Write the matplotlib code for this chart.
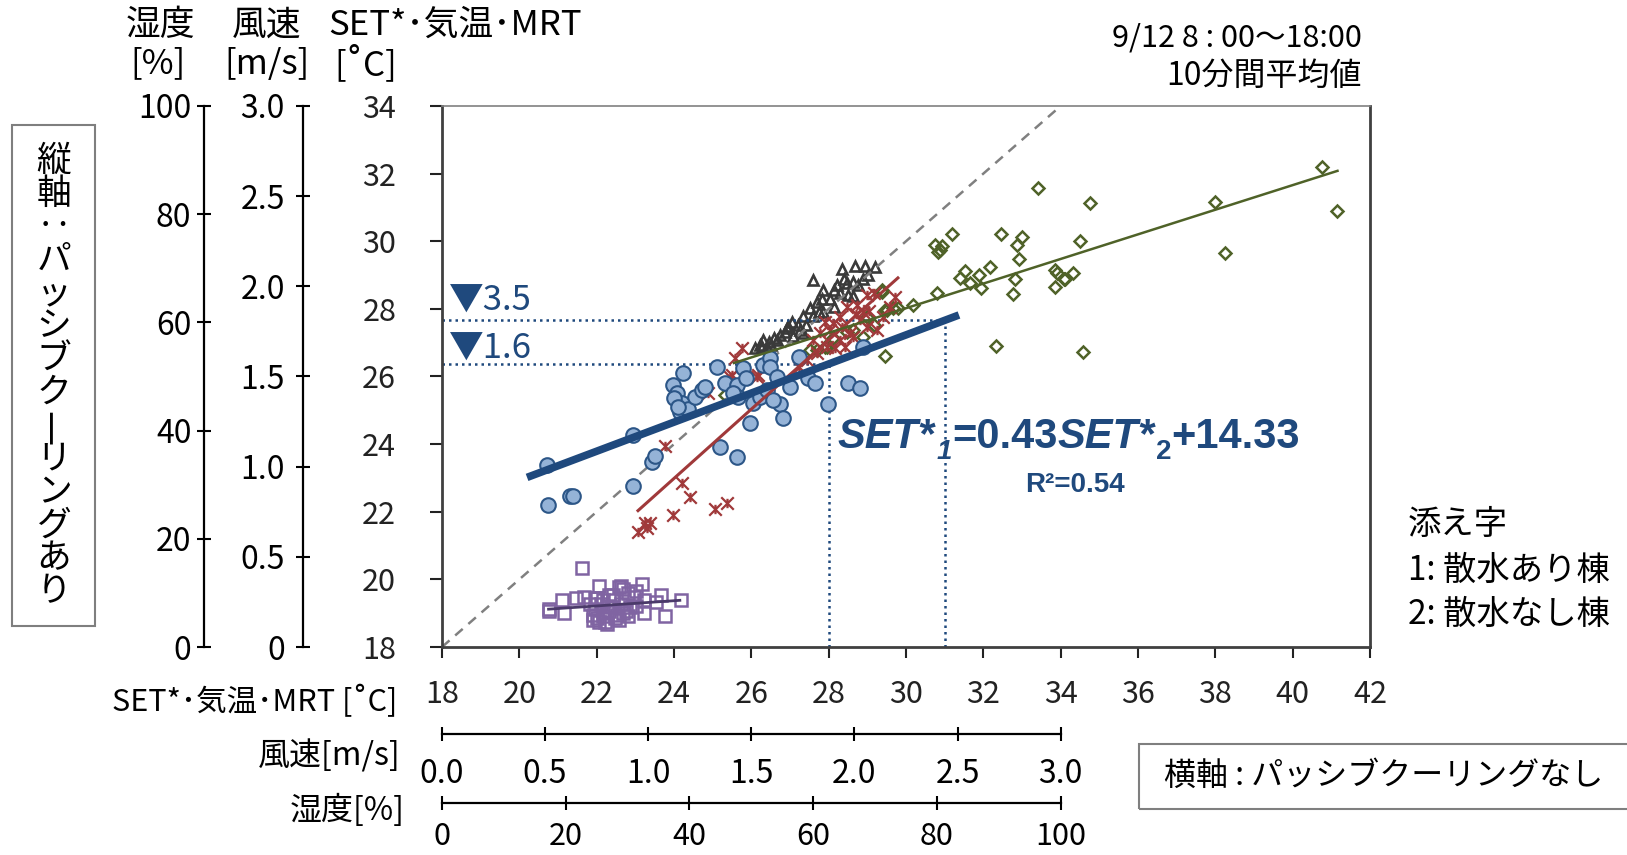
import numpy as np
import matplotlib
matplotlib.use("Agg")
import matplotlib.pyplot as plt
from matplotlib.patches import Rectangle
from matplotlib.path import Path

plt.rcParams["font.family"] = ["Noto Sans CJK JP", "DejaVu Sans"]

# ---- data (SET*, air temp, MRT in degC; wind in m/s; humidity in %) ----
# x: without passive cooling, y: with passive cooling
set_x = [20.71, 20.75, 21.31, 21.39, 22.94, 22.93, 23.42, 23.51, 24.22, 23.98,
         24.07, 24.20, 24.16, 24.37, 24.54, 24.72, 24.80, 25.10, 25.19, 25.64,
         25.32, 25.62, 25.66, 25.79, 25.97, 26.05, 26.22, 26.31, 26.48, 26.48,
         26.40, 26.66, 26.74, 26.83, 27.00, 27.22, 27.47, 27.65, 27.98, 28.51,
         28.81, 28.90, 26.57, 25.53, 24.00, 24.10, 25.85]
set_y = [23.38, 22.20, 22.47, 22.47, 24.27, 22.76, 23.48, 23.65, 26.11, 25.75,
         25.50, 25.21, 24.94, 25.03, 25.40, 25.60, 25.70, 26.29, 23.91, 23.61,
         25.80, 25.75, 25.40, 26.24, 24.62, 25.21, 25.40, 26.34, 26.54, 26.29,
         25.60, 25.99, 25.18, 24.77, 25.70, 26.57, 25.95, 25.80, 25.18, 25.80,
         25.67, 26.88, 25.31, 25.50, 25.35, 25.10, 25.95]

temp_x = [23.08, 23.25, 23.38, 23.29, 23.98, 24.20, 24.41, 25.06, 25.36, 23.77,
          25.75, 25.58, 25.45, 26.18, 24.89, 28.98, 28.72, 28.47, 28.29, 28.12,
          28.03, 27.78, 27.60, 27.69, 28.29, 28.64, 28.98, 29.24, 29.41, 29.59,
          29.72, 25.49, 26.14, 27.22, 27.43, 27.95, 28.17, 28.43, 28.81, 28.90,
          29.16, 28.55, 28.35, 27.90, 28.70, 29.05]
temp_y = [21.41, 21.66, 21.66, 21.51, 21.89, 22.84, 22.45, 22.07, 22.25, 23.94,
          26.83, 26.54, 25.99, 26.04, 25.50, 28.41, 28.11, 28.06, 27.77, 27.57,
          27.38, 27.28, 27.08, 26.69, 27.08, 27.18, 27.47, 27.38, 27.77, 28.06,
          28.36, 26.04, 25.99, 26.29, 26.49, 26.88, 26.83, 26.88, 27.67, 27.92,
          28.46, 27.30, 27.45, 27.60, 27.85, 27.95]

mrt_x = [40.75, 41.14, 37.99, 38.25, 33.42, 34.76, 31.18, 30.92, 30.88, 32.46,
         32.99, 32.88, 32.92, 34.51, 32.17, 31.53, 31.40, 31.66, 31.90, 31.93,
         32.82, 32.76, 33.85, 34.09, 34.33, 33.85, 32.33, 34.58, 30.75, 30.84,
         30.19, 29.80, 29.46, 30.79, 29.46, 29.37, 28.98, 29.16, 28.90, 29.37,
         28.64, 28.47, 28.12, 27.95, 27.69, 25.32, 29.67, 29.50, 27.52, 27.91,
         33.90, 34.11]
mrt_y = [32.19, 30.89, 31.17, 29.64, 31.58, 31.12, 30.21, 29.86, 29.74, 30.21,
         30.14, 29.89, 29.47, 30.00, 29.23, 29.12, 28.90, 28.77, 29.00, 28.61,
         28.88, 28.43, 29.15, 28.88, 29.07, 28.66, 26.91, 26.72, 29.89, 29.69,
         28.11, 28.02, 27.97, 28.46, 26.61, 28.56, 27.77, 27.52, 27.18, 28.51,
         27.38, 27.33, 27.13, 26.88, 26.78, 25.45, 28.02, 27.97, 26.78, 26.88,
         29.05, 28.88]

hum_x = [64.6, 66.8, 68.4, 70.0, 59.9, 65.4, 66.5, 67.3, 68.1, 68.9,
         61.6, 63.3, 61.4, 62.7, 64.3, 65.7, 66.5, 59.5, 60.9, 58.4,
         60.0, 61.6, 63.3, 56.5, 57.6, 55.7, 57.9, 58.9, 51.9, 52.8,
         53.6, 54.6, 55.4, 51.4, 52.5, 54.1, 56.8, 58.4, 51.7, 50.6,
         53.1, 55.9, 60.6, 63.8, 65.0]
hum_y = [69.8, 70.4, 70.4, 70.2, 67.8, 67.3, 67.5, 66.9, 68.1, 68.8,
         66.0, 66.0, 64.4, 64.3, 65.4, 65.1, 64.8, 62.6, 62.0, 61.1,
         61.1, 62.0, 62.9, 60.1, 59.5, 58.9, 58.6, 59.5, 56.8, 56.4,
         57.1, 57.7, 58.3, 55.8, 55.5, 56.8, 57.4, 58.0, 55.5, 55.3,
         55.9, 59.4, 63.8, 66.9, 68.1]

wind_x = [0.68, 0.76, 0.87, 0.97, 0.86, 0.58, 0.65, 0.69, 0.74, 0.78,
          0.83, 0.90, 0.93, 0.98, 1.06, 1.16, 1.04, 0.52, 0.59, 0.52,
          0.98, 1.08, 0.90, 0.73, 0.76, 0.78, 0.81, 0.82, 0.85, 0.86,
          0.89, 0.91, 0.74, 0.72, 0.77, 0.80, 0.83, 0.87, 0.81, 0.79,
          0.73, 0.94, 0.75, 0.88, 0.94, 0.78, 0.84, 0.80, 0.88, 0.75]
wind_y = [0.44, 0.34, 0.34, 0.35, 0.33, 0.26, 0.27, 0.28, 0.27, 0.26,
          0.29, 0.30, 0.28, 0.26, 0.29, 0.26, 0.25, 0.20, 0.19, 0.21,
          0.19, 0.17, 0.17, 0.15, 0.14, 0.17, 0.20, 0.22, 0.18, 0.15,
          0.20, 0.22, 0.21, 0.24, 0.24, 0.13, 0.26, 0.24, 0.29, 0.14,
          0.18, 0.23, 0.27, 0.32, 0.31, 0.19, 0.16, 0.23, 0.19, 0.16]

# trend lines: (slope, intercept, x range)
set_fit = (0.43, 14.33, (20.2, 31.37))
temp_fit = (1.024, -1.59, (23.04, 29.82))
mrt_fit = (0.364, 17.10, (25.52, 41.19))
wind_fit = (0.077, 0.17, (0.51, 1.16))
marks_x = [28, 31]   # read-off points on the SET* regression

set_ticks = list(range(18, 43, 2))
set_yticks = list(range(18, 35, 2))
wind_ticks = [0, 0.5, 1.0, 1.5, 2.0, 2.5, 3.0]
hum_ticks = [0, 20, 40, 60, 80, 100]

NAVY = "#1F497D"

# Excel-like "*" marker: an X with a vertical stroke
star_marker = Path([(-1, -1), (1, 1), (-1, 1), (1, -1), (0, -0.75), (0, 0.75)],
                   [Path.MOVETO, Path.LINETO, Path.MOVETO, Path.LINETO,
                    Path.MOVETO, Path.LINETO])

W, H = 1627, 855
fig = plt.figure(figsize=(W / 100, H / 100), dpi=100)


def fx(px):
    return px / W


def fy(py):
    return 1 - py / H


L, R, T, B = 442, 1370, 106, 647
rect = [fx(L), fy(B), (R - L) / W, (B - T) / H]

ax_h = fig.add_axes(rect, zorder=1)
ax_w = fig.add_axes(rect, zorder=2)
ax = fig.add_axes(rect, zorder=3)
ax.patch.set_visible(False)

# ---- helper axes: humidity and wind, sharing the SET* frame ----
for a, lx, by, xmax, ymax in [(ax_h, 204, 803, 150, 100), (ax_w, 303, 734, 4.5, 3.0)]:
    a.patch.set_visible(False)
    a.set_xlim(0, xmax)
    a.set_ylim(0, ymax)
    a.spines["top"].set_visible(False)
    a.spines["right"].set_visible(False)
    a.spines["left"].set_position(("axes", (lx - L) / (R - L)))
    a.spines["bottom"].set_position(("axes", -(by - B) / (B - T)))
    a.spines["left"].set_bounds(0, ymax)
    a.spines["bottom"].set_bounds(0, xmax * 2 / 3)
    for s in ("left", "bottom"):
        a.spines[s].set_linewidth(1.6)
    a.tick_params(direction="inout", length=10, width=1.5, labelsize=23)

ax_h.set_xticks(hum_ticks)
ax_h.set_yticks(hum_ticks)
ax_h.tick_params(axis="y", pad=4)
ax_h.tick_params(axis="x", pad=8, labelsize=22)

ax_w.set_xticks(wind_ticks)
ax_w.set_xticklabels([f"{v:.1f}" for v in wind_ticks])
ax_w.set_yticks(wind_ticks)
ax_w.set_yticklabels(["0"] + [f"{v:.1f}" for v in wind_ticks[1:]])
ax_w.tick_params(axis="y", pad=8)
ax_w.tick_params(axis="x", pad=12)

# ---- main axes ----
ax.set_xlim(18, 42)
ax.set_ylim(18, 34)
ax.set_xticks(set_ticks)
ax.set_yticks(set_yticks)
ax.tick_params(direction="out", width=1.5, labelsize=22, colors="#222222")
ax.tick_params(axis="x", length=8, pad=15)
ax.tick_params(axis="y", length=9, pad=24)
for s in ("left", "bottom", "right"):
    ax.spines[s].set_linewidth(2)
    ax.spines[s].set_color("#404040")
ax.spines["top"].set_linewidth(1.2)
ax.spines["top"].set_color("#808080")

# 1:1 line
ax.plot([18, 34], [18, 34], ls=(0, (4, 3)), color="#808080", lw=1.8, zorder=1)

# scatter series
ax.plot(mrt_x, mrt_y, ls="none", marker="D", ms=6.5, mfc="none", mec="#4F6228",
        mew=1.8, zorder=2)
ax.plot(temp_x, temp_y, ls="none", marker=star_marker, ms=9, mec="#A0393A",
        mew=1.6, zorder=3)
ax_h.plot(hum_x, hum_y, ls="none", marker="^", ms=7, mfc="none", mec="#3A3A3A",
          mew=1.9)
ax_w.plot(wind_x, wind_y, ls="none", marker="s", ms=8.5, mfc="none", mec="#8064A2",
          mew=1.8)
ax.plot(set_x, set_y, ls="none", marker="o", ms=10.5, mfc="#95B3D7", mec="#2C5687",
        mew=1.5, zorder=4)

# trend lines
for (m, c, (x0, x1)), col, lw, a in [(temp_fit, "#A0393A", 2.2, ax),
                                     (mrt_fit, "#4F6228", 1.8, ax),
                                     (wind_fit, "#4B3A6A", 2.0, ax_w),
                                     (set_fit, NAVY, 5.5, ax)]:
    xs = np.array([x0, x1])
    a.plot(xs, m * xs + c, color=col, lw=lw, solid_capstyle="butt", zorder=5)

# read-off dotted guides
m, c, _ = set_fit
for xv in marks_x:
    yv = m * xv + c
    ax.plot([18, xv], [yv, yv], color=NAVY, lw=1.8, ls=(0, (1, 1.6)), zorder=1)
    ax.plot([xv, xv], [18, yv], color=NAVY, lw=1.8, ls=(0, (1, 1.6)), zorder=1)

ax.text(18.18, 28.23, "▼3.5", color=NAVY, fontsize=25, va="center", ha="left")
ax.text(18.18, 26.81, "▼1.6", color=NAVY, fontsize=25, va="center", ha="left")

# regression equation, built piece by piece
eq_font = dict(family="Liberation Sans", weight="bold", color=NAVY)
pieces = [("SET*", "it"), ("1", "subit"), ("=0.43", "rm"), ("SET*", "it"),
          ("2", "sub"), ("+14.33", "rm")]
first = ax.text(28.24, 23.885, pieces[0][0], fontsize=30, style="italic",
                va="baseline", ha="left", **eq_font)
prev, prev_main = first, first
for txt, kind in pieces[1:]:
    if kind.startswith("sub"):
        t = ax.annotate(txt, xy=(1, 0), xycoords=prev_main, xytext=(1, -6),
                        textcoords="offset points", va="bottom", ha="left",
                        fontsize=20, style="italic" if kind == "subit" else "normal",
                        **eq_font)
    else:
        t = ax.annotate(txt, xy=(1, 0), xycoords=(prev, prev_main), va="bottom",
                        ha="left", fontsize=30,
                        style="italic" if kind == "it" else "normal", **eq_font)
        prev_main = t
    prev = t

ax.text(34.37, 22.79, "R²=0.54", fontsize=20, ha="center", va="center", **eq_font)

# ---- header / side texts ----
fs_head = 25
fig.text(fx(160), fy(25), "湿度", fontsize=fs_head, ha="center", va="center")
fig.text(fx(158), fy(64), "[%]", fontsize=fs_head, ha="center", va="center")
fig.text(fx(267), fy(25), "風速", fontsize=fs_head, ha="center", va="center")
fig.text(fx(267), fy(64), "[m/s]", fontsize=fs_head, ha="center", va="center")
fig.text(fx(328), fy(25), "SET*･気温･MRT", fontsize=fs_head, ha="left", va="center")
fig.text(fx(334), fy(64), "[˚C]", fontsize=fs_head, ha="left", va="center")

fig.text(fx(1362), fy(38), "9/12 8 : 00～18:00", fontsize=22, ha="right", va="center")
fig.text(fx(1362), fy(76), "10分間平均値", fontsize=23, ha="right", va="center")

fig.text(fx(1408), fy(524), "添え字", fontsize=24, ha="left", va="center")
fig.text(fx(1408), fy(570), "1: 散水あり棟", fontsize=24, ha="left", va="center")
fig.text(fx(1408), fy(614), "2: 散水なし棟", fontsize=24, ha="left", va="center")

fig.text(fx(397), fy(702), "SET*･気温･MRT [˚C]", fontsize=22, ha="right", va="center")
fig.text(fx(401), fy(756), "風速[m/s]", fontsize=23, ha="right", va="center")
fig.text(fx(405), fy(810), "湿度[%]", fontsize=23, ha="right", va="center")

# bottom-right box
fig.patches.append(Rectangle((fx(1139), fy(809)), fx(1627 + 10) - fx(1139), (809 - 744) / H,
                             transform=fig.transFigure, fill=False, ec="#7F7F7F", lw=1.5))
fig.text(fx(1164), fy(776), "横軸 : パッシブクーリングなし", fontsize=23, ha="left", va="center")

# left vertical box
fig.patches.append(Rectangle((fx(12), fy(626)), fx(95) - fx(12), (626 - 125) / H,
                             transform=fig.transFigure, fill=False, ec="#7F7F7F", lw=1.5))
vchars = list("縦軸‥パッシブクーリングあり")
ys = np.linspace(161, 592, len(vchars))
for ch, yy in zip(vchars, ys):
    rot = 0
    if ch == "ー":
        ch = "一"
        rot = 90
    fig.text(fx(54), fy(yy), ch, fontsize=25, ha="center", va="center", rotation=rot)

fig.savefig("out.png", dpi=100, facecolor="white")
